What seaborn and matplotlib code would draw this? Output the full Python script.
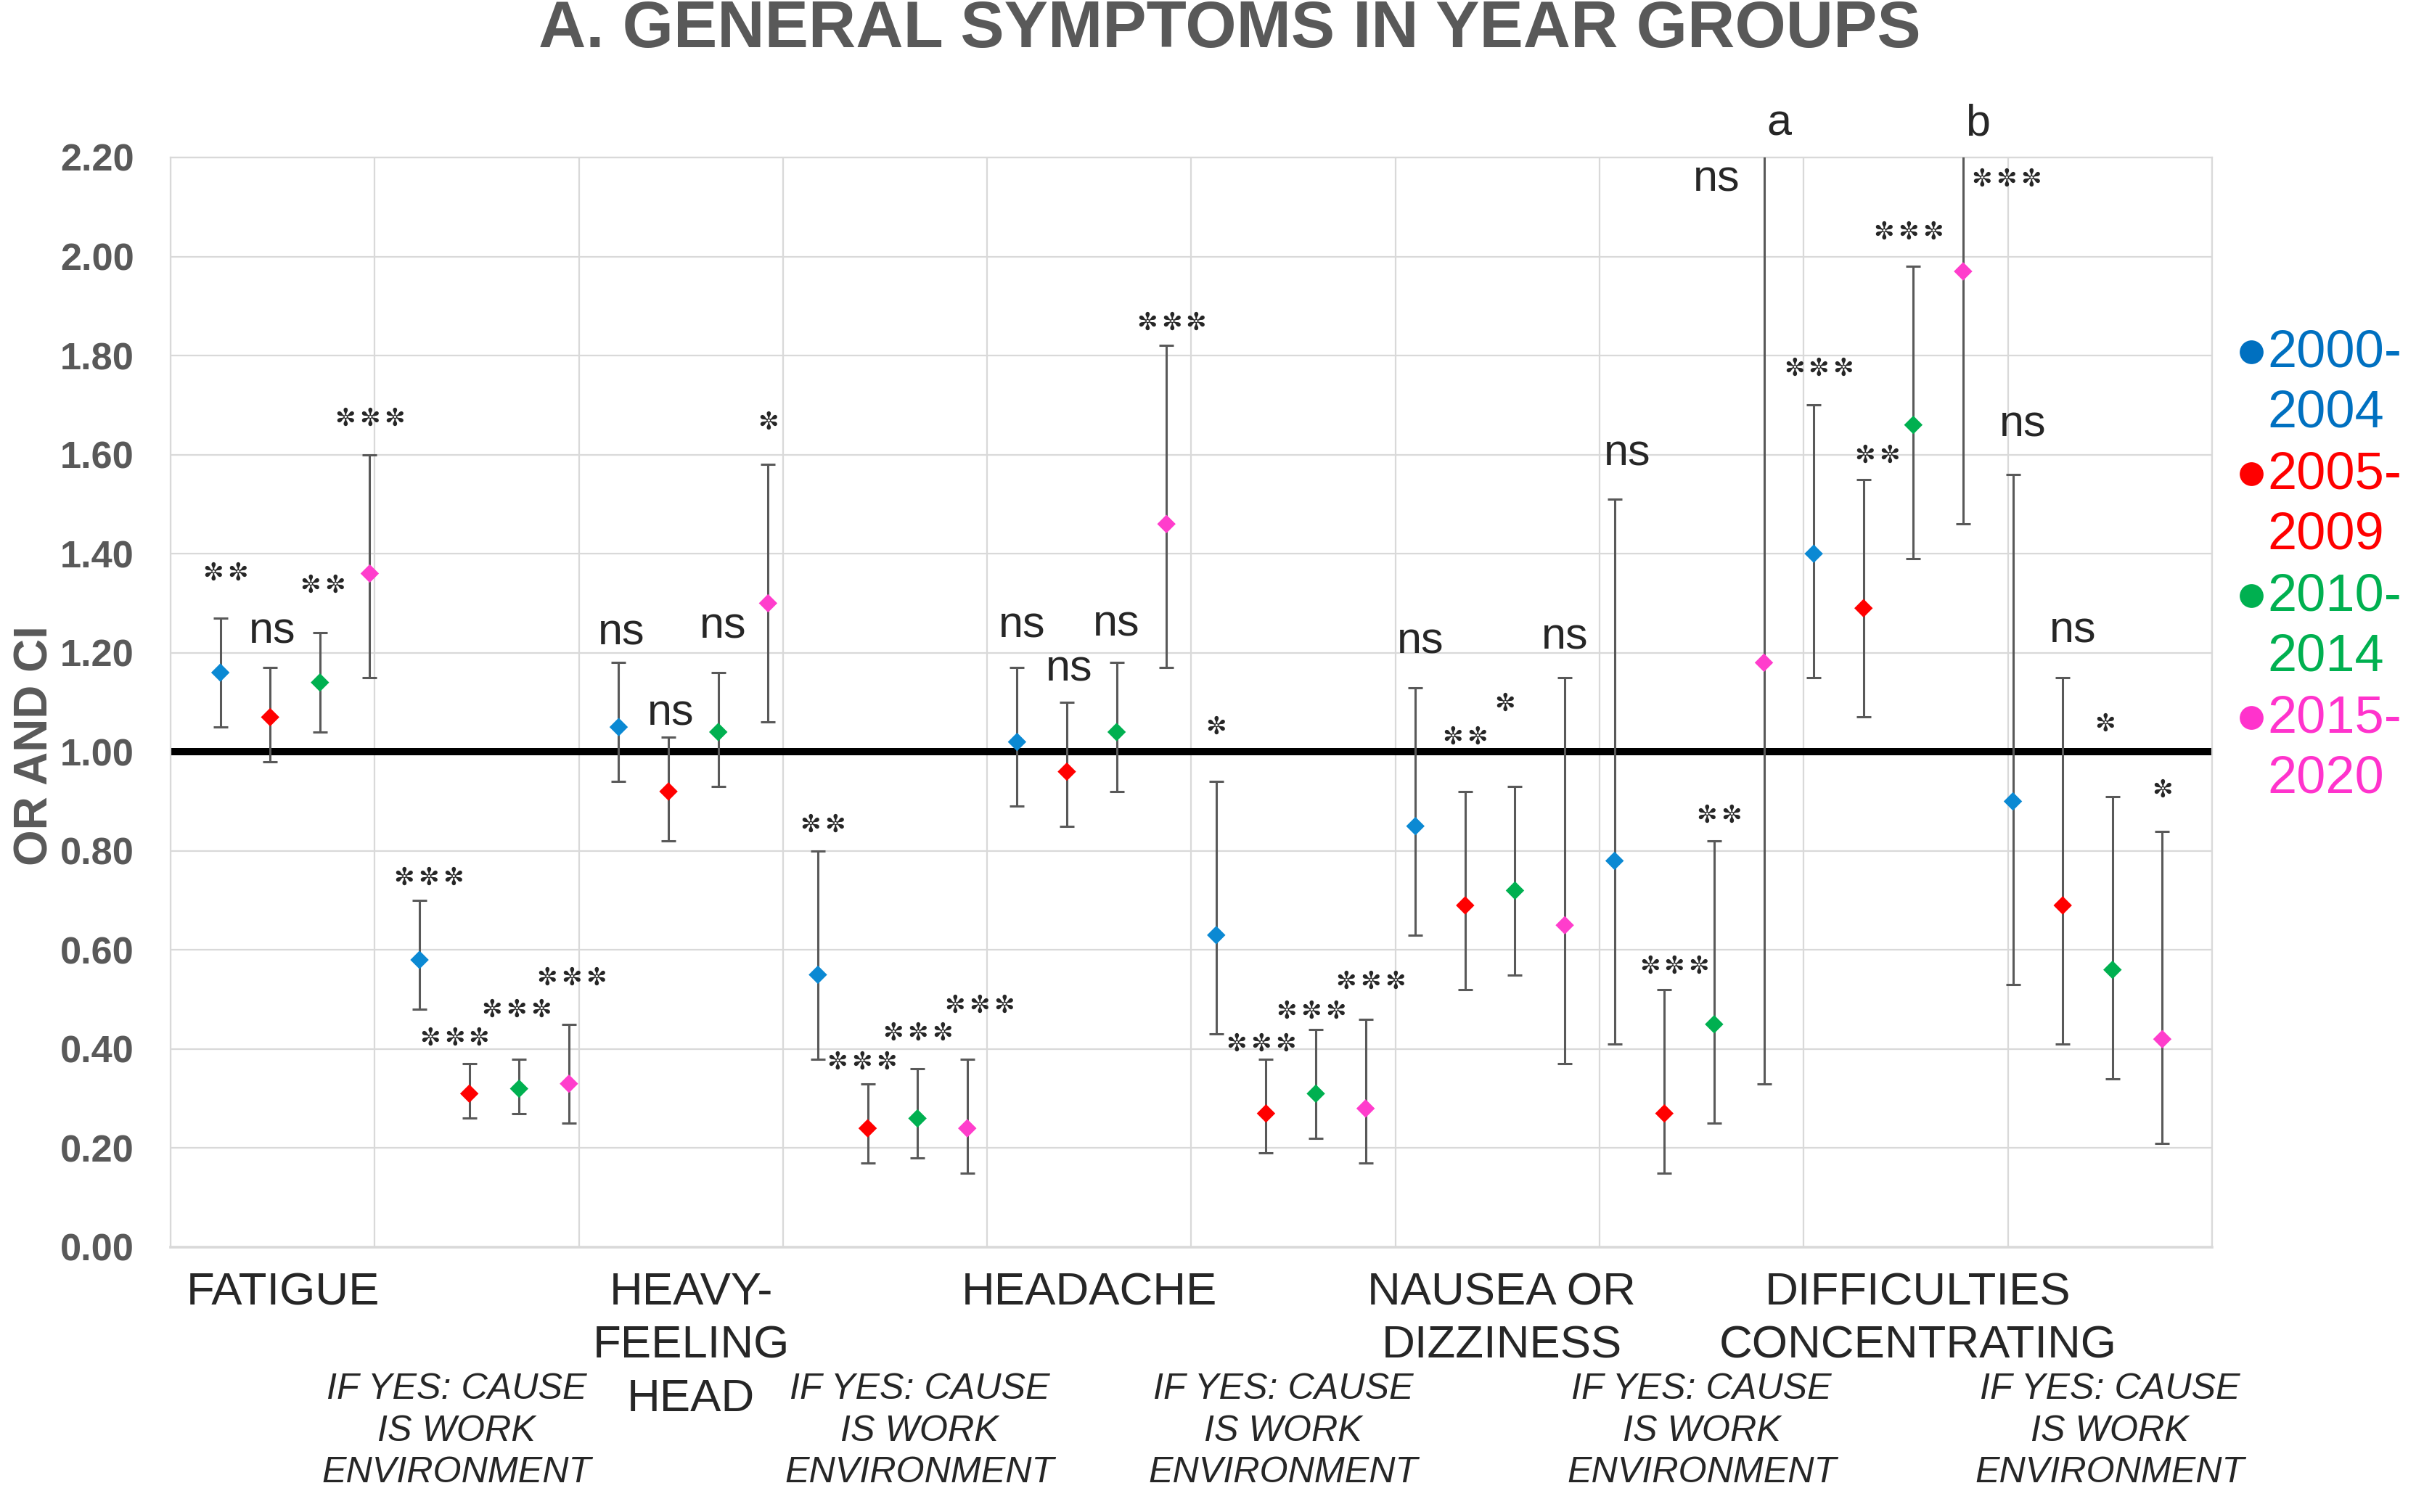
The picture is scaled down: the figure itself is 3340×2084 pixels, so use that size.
import numpy as np
import pandas as pd
import matplotlib
matplotlib.use("Agg")
from matplotlib import pyplot as plt
from matplotlib.lines import Line2D
from matplotlib.transforms import offset_copy
import seaborn as sns


# x-axis categories: each symptom, then "cause is work environment" for it
symptoms = [
    "FATIGUE",
    "IF YES: CAUSE\nIS WORK\nENVIRONMENT",
    "HEAVY-\nFEELING\nHEAD",
    "IF YES: CAUSE\nIS WORK\nENVIRONMENT",
    "HEADACHE",
    "IF YES: CAUSE\nIS WORK\nENVIRONMENT",
    "NAUSEA OR\nDIZZINESS",
    "IF YES: CAUSE\nIS WORK\nENVIRONMENT",
    "DIFFICULTIES\nCONCENTRATING",
    "IF YES: CAUSE\nIS WORK\nENVIRONMENT",
]

periods = ["2000-2004", "2005-2009", "2010-2014", "2015-2020"]

# odds ratios with lower / upper CI
or_2000 = [1.16, 0.58, 1.05, 0.55, 1.02, 0.63, 0.85, 0.78, 1.40, 0.90]
lo_2000 = [1.05, 0.48, 0.94, 0.38, 0.89, 0.43, 0.63, 0.41, 1.15, 0.53]
hi_2000 = [1.27, 0.70, 1.18, 0.80, 1.17, 0.94, 1.13, 1.51, 1.70, 1.56]
sig_2000 = ["**", "***", "ns", "**", "ns", "*", "ns", "ns", "***", "ns"]

or_2005 = [1.07, 0.31, 0.92, 0.24, 0.96, 0.27, 0.69, 0.27, 1.29, 0.69]
lo_2005 = [0.98, 0.26, 0.82, 0.17, 0.85, 0.19, 0.52, 0.15, 1.07, 0.41]
hi_2005 = [1.17, 0.37, 1.03, 0.33, 1.10, 0.38, 0.92, 0.52, 1.55, 1.15]
sig_2005 = ["ns", "***", "ns", "***", "ns", "***", "**", "***", "**", "ns"]

or_2010 = [1.14, 0.32, 1.04, 0.26, 1.04, 0.31, 0.72, 0.45, 1.66, 0.56]
lo_2010 = [1.04, 0.27, 0.93, 0.18, 0.92, 0.22, 0.55, 0.25, 1.39, 0.34]
hi_2010 = [1.24, 0.38, 1.16, 0.36, 1.18, 0.44, 0.93, 0.82, 1.98, 0.91]
sig_2010 = ["**", "***", "ns", "***", "ns", "***", "*", "**", "***", "*"]

or_2015 = [1.36, 0.33, 1.30, 0.24, 1.46, 0.28, 0.65, 1.18, 1.97, 0.42]
lo_2015 = [1.15, 0.25, 1.06, 0.15, 1.17, 0.17, 0.37, 0.33, 1.46, 0.21]
hi_2015 = [1.60, 0.45, 1.58, 0.38, 1.82, 0.46, 1.15, 4.30, 2.65, 0.84]
sig_2015 = ["***", "***", "*", "***", "***", "***", "ns", "ns", "***", "*"]
# upper limits off the scale get a footnote letter
note_2015 = ["", "", "", "", "", "", "", "a", "b", ""]

marker_colors = ["#0B89D3", "#FF0000", "#00B050", "#FF3DCC"]
legend_colors = ["#0070C0", "#FF0000", "#00B050", "#FF33CC"]
gray = "#595959"

# placement of the significance labels above each CI (layout only)
lab_dy = [
    [0.091, 0.045, 0.059, 0.052, 0.084, 0.11, 0.092, 0.091, 0.073, 0.10],
    [0.072, 0.051, 0.047, 0.043, 0.066, 0.03, 0.11, 0.046, 0.048, 0.094],
    [0.096, 0.098, 0.092, 0.072, 0.076, 0.036, 0.167, 0.051, 0.069, 0.145],
    [0.072, 0.093, 0.085, 0.108, 0.046, 0.076, 0.081, 0.0, 0.0, 0.082],
]
lab_dx = [
    [0.1, 0.18, 0.05, 0.1, 0.1, 0.0, 0.1, 0.25, 0.1, 0.2],
    [0.05, -0.3, 0.05, -0.12, 0.05, -0.1, 0.0, 0.2, 0.28, 0.2],
    [0.05, -0.05, 0.1, 0.0, 0.0, -0.1, -0.2, 0.1, -0.1, -0.15],
    [0.0, 0.05, 0.0, 0.25, 0.1, 0.1, 0.0, 0.0, 0.0, 0.0],
]
# small horizontal shifts of the category labels (fraction of a band)
cat_dx = [0.05, -0.1, 0.05, 0.17, 0.0, -0.05, 0.02, 0.0, 0.06, 0.0]

ors = [or_2000, or_2005, or_2010, or_2015]
los = [lo_2000, lo_2005, lo_2010, lo_2015]
his = [hi_2000, hi_2005, hi_2010, hi_2015]
sigs = [sig_2000, sig_2005, sig_2010, sig_2015]
notes = [[""] * 10, [""] * 10, [""] * 10, note_2015]

rows = []
for j, period in enumerate(periods):
    for i in range(len(symptoms)):
        rows.append(dict(x=4 * i + j + 1, period=period, OR=ors[j][i],
                         lo=los[j][i], hi=his[j][i], sig=sigs[j][i],
                         note=notes[j][i], dy=lab_dy[j][i], dx=lab_dx[j][i]))
df = pd.DataFrame(rows)

sns.set_theme(style="white")
plt.rcParams["font.family"] = ["Liberation Sans", "DejaVu Sans"]

W, H = 3341, 2084
fig = plt.figure(figsize=(W / 200, H / 200), dpi=200)
ax = fig.add_axes([235 / W, 1 - 1719 / H, (3048 - 235) / W, (1719 - 217) / H])

xmax = 4 * len(symptoms) + 1
ymax = 2.2
band = xmax / len(symptoms)

ax.errorbar(df.x, df.OR, yerr=[df.OR - df.lo, df.hi - df.OR], fmt="none",
            ecolor=gray, elinewidth=1.1, capsize=3.6, capthick=1.1, zorder=3)
sns.scatterplot(data=df, x="x", y="OR", hue="period", palette=marker_colors,
                marker="D", s=42, linewidth=0, legend=False, ax=ax, zorder=4)

ax.axhline(1.0, color="black", lw=3.6, zorder=2)

ax.set_xlim(0, xmax)
ax.set_ylim(0, ymax)
ax.set_xticks(np.arange(len(symptoms) + 1) * band)
ax.set_xticklabels([])
ax.set_yticks(np.arange(0, ymax + 0.01, 0.2))
ax.yaxis.set_major_formatter("{x:.2f}")
ax.grid(True, color="#D9D9D9", lw=0.8)
ax.tick_params(length=0)
ax.tick_params(axis="y", labelsize=18.8, labelcolor=gray, pad=18)
for t in ax.get_yticklabels():
    t.set_fontweight("bold")
for s in ax.spines.values():
    s.set_color("#D9D9D9")
    s.set_linewidth(0.8)
ax.spines["bottom"].set_linewidth(1.3)
ax.set_xlabel("")
ax.set_ylabel("")

# category labels under the axis, alternating rows
xt = ax.get_xaxis_transform()
for i, name in enumerate(symptoms):
    c = (i + 0.5 + cat_dx[i]) * band
    if i % 2 == 0:
        ax.text(c, -0.022, name, transform=xt, ha="center", va="top",
                fontsize=22.8, linespacing=1.31, multialignment="center")
    else:
        ax.text(c, -0.115, name, transform=xt, ha="center", va="top",
                fontsize=18.1, style="italic", linespacing=1.33,
                multialignment="center")


# significance labels; asterisks are drawn one by one with a fixed gap
star_gap = 12.2  # points between asterisk centres


def put_sig(x, y, s):
    if s == "ns":
        ax.text(x, y, "ns", ha="center", va="center", fontsize=22)
        return
    n = len(s)
    for k in range(n):
        tr = offset_copy(ax.transData, fig=fig, x=(k - (n - 1) / 2) * star_gap,
                         units="points")
        ax.text(x, y, "\u273c", transform=tr, ha="center", va="center",
                fontsize=12.3, family=["DejaVu Sans"])


for r in df.itertuples():
    if r.hi <= ymax:
        put_sig(r.x + r.dx, r.hi + r.dy, r.sig)
    else:
        side = -0.95 if r.note == "a" else 0.87
        put_sig(r.x + side, 2.155, r.sig)
        ax.text(r.x + 0.3, 2.267, r.note, ha="center", va="center", fontsize=22)

# legend: coloured bullet + two-line period text
for i, (p, col) in enumerate(zip(periods, legend_colors)):
    a, b = p.split("-")
    fig.text(3124 / W, 1 - (453 + 168 * i) / H, a + "-\n" + b, color=col,
             fontsize=26, ha="left", va="top", linespacing=1.31)
    fig.add_artist(Line2D([3102 / W], [1 - (485 + 168 * i) / H], marker="o",
                          markersize=10.8, color=col, linestyle="none",
                          transform=fig.transFigure))

fig.text(49 / W, 1 - 1028 / H, "OR AND CI", rotation=90, ha="center",
         va="center", fontsize=23, fontweight="bold", color=gray)
fig.text(0.507, 1 - 41 / H, "A. GENERAL SYMPTOMS IN YEAR GROUPS",
         ha="center", va="center", fontsize=32.6, fontweight="bold", color=gray)

fig.savefig("out.png", dpi=200)
